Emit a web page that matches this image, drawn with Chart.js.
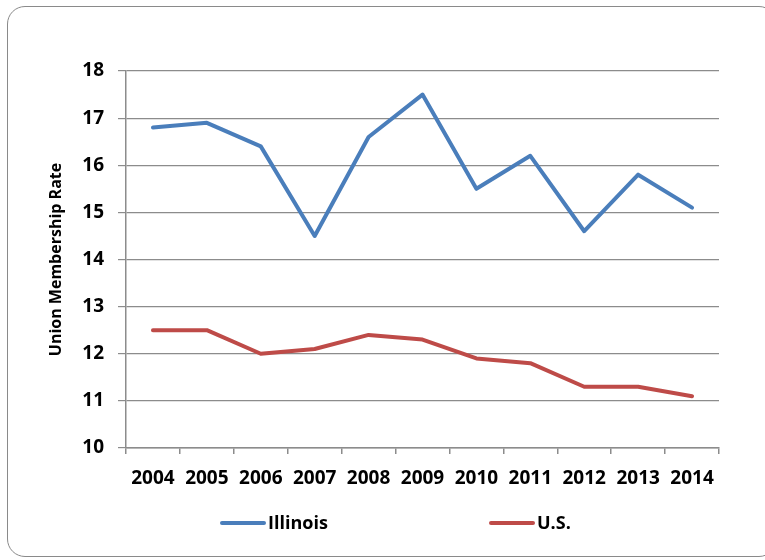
<!DOCTYPE html>
<html>
<head>
<meta charset="utf-8">
<script src="https://cdn.jsdelivr.net/npm/chart.js@4.4.0/dist/chart.umd.min.js"></script>
<style>
  html, body { margin: 0; padding: 0; background: #fff; overflow: hidden; }
  #wrap { position: relative; width: 765px; height: 560px; }
  #frame {
    position: absolute; left: 7px; top: 6px; width: 770px; height: 551px;
    border: 1.5px solid #8a8a8a; border-radius: 18px; box-sizing: border-box;
  }
  canvas { position: absolute; left: 0; top: 0; }
</style>
</head>
<body>
<div id="wrap">
  <div id="frame"></div>
  <canvas id="line-chart" width="765" height="560"></canvas>
</div>
<script>
const years = ['2004', '2005', '2006', '2007', '2008', '2009', '2010', '2011', '2012', '2013', '2014'];
const illinois = [16.8, 16.9, 16.4, 14.5, 16.6, 17.5, 15.5, 16.2, 14.6, 15.8, 15.1];
const us = [12.5, 12.5, 12.0, 12.1, 12.4, 12.3, 11.9, 11.8, 11.3, 11.3, 11.1];
const yTicks = [10, 11, 12, 13, 14, 15, 16, 17, 18];

const fontFamily = '"Open Sans", "Liberation Sans", sans-serif';
const gridColor = '#8c8c8c';

// simple legend drawn under the plot, using the dataset colours
const bottomLegend = {
  id: 'bottomLegend',
  afterDraw(chart) {
    const ctx = chart.ctx;
    const spots = [222, 491];
    const y = 523;
    ctx.save();
    ctx.font = 'bold 18px ' + fontFamily;
    ctx.textBaseline = 'middle';
    chart.data.datasets.forEach((ds, i) => {
      const x = spots[i];
      ctx.strokeStyle = ds.borderColor;
      ctx.lineWidth = 4;
      ctx.lineCap = 'round';
      ctx.beginPath();
      ctx.moveTo(x, y);
      ctx.lineTo(x + 42, y);
      ctx.stroke();
      ctx.fillStyle = '#000';
      ctx.fillText(ds.label, x + 46, y + 1);
    });
    ctx.restore();
  }
};

const ctx = document.getElementById('line-chart').getContext('2d');

new Chart(ctx, {
  type: 'line',
  data: {
    labels: years,
    datasets: [
      {
        label: 'Illinois',
        data: illinois,
        borderColor: '#4A7EBB',
        backgroundColor: '#4A7EBB',
        borderWidth: 4,
        pointRadius: 0,
        tension: 0,
        borderCapStyle: 'round',
        borderJoinStyle: 'round'
      },
      {
        label: 'U.S.',
        data: us,
        borderColor: '#BE4B48',
        backgroundColor: '#BE4B48',
        borderWidth: 4,
        pointRadius: 0,
        tension: 0,
        borderCapStyle: 'round',
        borderJoinStyle: 'round'
      }
    ]
  },
  options: {
    responsive: false,
    animation: false,
    layout: { padding: { left: 0, top: 71, right: 46, bottom: 62 } },
    plugins: {
      legend: { display: false },
      tooltip: { enabled: false }
    },
    scales: {
      x: {
        offset: true,
        grid: {
          offset: true,
          drawOnChartArea: false,
          drawTicks: true,
          tickLength: 6,
          color: gridColor,
          lineWidth: 1.5
        },
        border: { color: gridColor, width: 1.5 },
        ticks: {
          color: '#000',
          padding: 13,
          maxRotation: 0,
          font: { family: fontFamily, size: 19, weight: 'bold' }
        },
        afterFit(scale) { scale.height = 50; }
      },
      y: {
        min: 10,
        max: 18,
        afterBuildTicks(scale) { scale.ticks = yTicks.map(v => ({ value: v })); },
        grid: {
          color: gridColor,
          lineWidth: 1.2,
          tickLength: 8
        },
        border: { color: gridColor, width: 1.5 },
        ticks: {
          color: '#000',
          padding: 14,
          font: { family: fontFamily, size: 19, weight: 'bold' }
        },
        title: {
          display: true,
          text: 'Union Membership Rate',
          color: '#000',
          padding: { top: 47, bottom: 0 },
          font: { family: fontFamily, size: 16, weight: 'bold' }
        },
        afterFit(scale) { scale.width = 126; }
      }
    }
  },
  plugins: [bottomLegend]
});
</script>
</body>
</html>
